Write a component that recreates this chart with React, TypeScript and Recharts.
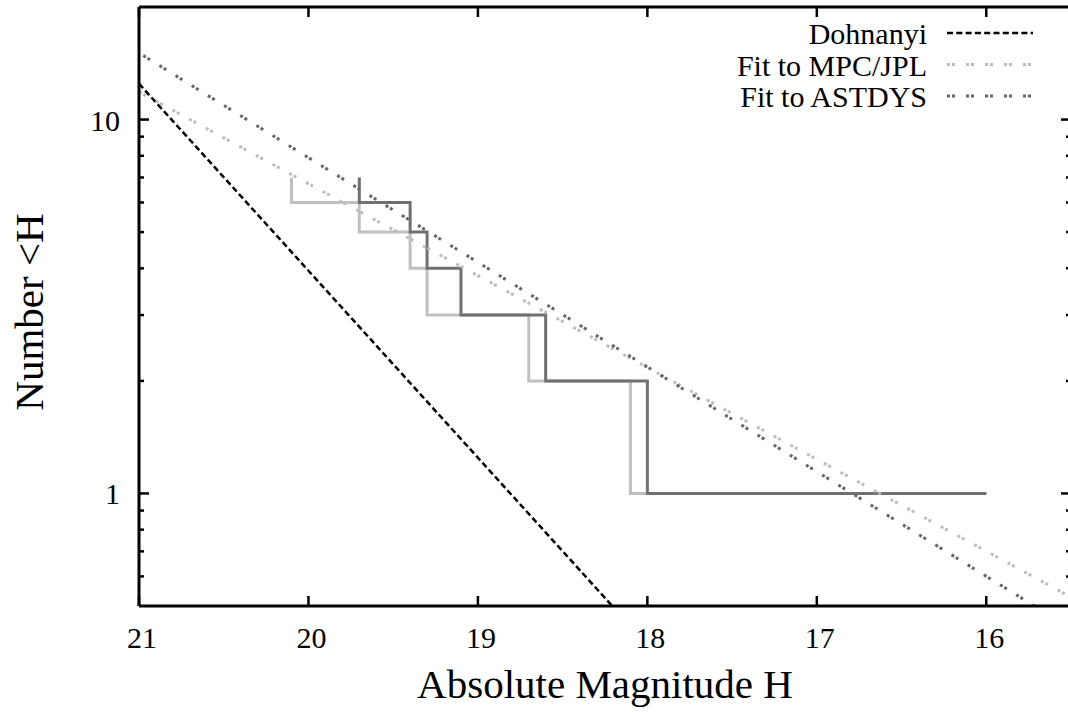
import React from 'react';
import { LineChart, Line, XAxis, YAxis, Legend } from 'recharts';

const FONT = "'Liberation Serif', 'Times New Roman', Times, serif";

// Cumulative number of objects brighter than H (step plots)
const mpcH = [20.1, 19.7, 19.4, 19.3, 18.7, 18.1, 16.0];
const mpcN = [7, 6, 5, 4, 3, 2, 1];
const astH = [19.7, 19.4, 19.3, 19.1, 18.6, 18.0, 16.0];
const astN = [7, 6, 5, 4, 3, 2, 1];

// Straight (log-linear) lines, given by their end points
const dohH = [21, 18];
const dohN = [12.47, 0.394];
const fitMpcH = [21, 15.5];
const fitMpcN = [11.86, 0.528];
const fitAstH = [21, 15.5];
const fitAstN = [15.07, 0.435];

const xTicks = [21, 20, 19, 18, 17, 16];
const yTicks = [0.6, 0.7, 0.8, 0.9, 1, 2, 3, 4, 5, 6, 7, 8, 9, 10];
const yLabelled = [1, 10];
const xDomain: [number, number] = [15.5, 21];
const yDomain: [number, number] = [0.5, 20];

const legendNames = ['Dohnanyi', 'Fit to MPC/JPL', 'Fit to ASTDYS'];

const zip = (h: number[], n: number[]) => h.map((v, i) => ({ H: v, N: n[i] }));
const mpcData = zip(mpcH, mpcN);
const astData = zip(astH, astN);
const dohData = zip(dohH, dohN);
const fitMpcData = zip(fitMpcH, fitMpcN);
const fitAstData = zip(fitAstH, fitAstN);

const C_LIGHT_STEP = '#c0c0c0';
const C_DARK_STEP = '#707070';
const C_LIGHT_FIT = '#bdbdbd';
const C_DARK_FIT = '#666666';
const DOT = '3 2 3 11';
const DASH = '6 3.3';

const legendStyles = [
  { stroke: '#000', dash: DASH, w: 2.5 },
  { stroke: C_LIGHT_FIT, dash: DOT, w: 3 },
  { stroke: C_DARK_FIT, dash: DOT, w: 3 },
];

const isMajor = (v: number) => yLabelled.includes(v);

const BottomTick = (p: any) => {
  const { x, y, payload } = p;
  return (
    <g>
      <line x1={x} y1={y} x2={x} y2={y - 10} stroke="#000" strokeWidth={2.5} />
      <text x={x + 3} y={y + 42} textAnchor="middle" fontFamily={FONT} fontSize={30} fill="#000">
        {payload.value}
      </text>
    </g>
  );
};

const TopTick = (p: any) => {
  const { x, y } = p;
  return <line x1={x} y1={y} x2={x} y2={y + 10} stroke="#000" strokeWidth={2.5} />;
};

const LeftTick = (p: any) => {
  const { x, y, payload } = p;
  const major = isMajor(payload.value);
  return (
    <g>
      <line x1={x} y1={y} x2={x + (major ? 10 : 5)} y2={y} stroke="#000" strokeWidth={2.5} />
      {major ? (
        <text x={x - 19} y={y + 11} textAnchor="end" fontFamily={FONT} fontSize={30} fill="#000">
          {payload.value}
        </text>
      ) : null}
    </g>
  );
};

const RightTick = (p: any) => {
  const { x, y, payload } = p;
  const major = isMajor(payload.value);
  return <line x1={x} y1={y} x2={x - (major ? 10 : 5)} y2={y} stroke="#000" strokeWidth={2.5} />;
};

const LegendBox = () => (
  <svg width={1090} height={130} style={{ display: 'block' }}>
    {legendNames.map((name, i) => {
      const cy = 33 + i * 31.5;
      const s = legendStyles[i];
      return (
        <g key={name}>
          <text x={927} y={cy + 11} textAnchor="end" fontFamily={FONT} fontSize={30} fill="#000">
            {name}
          </text>
          <line x1={947} y1={cy} x2={1033} y2={cy} stroke={s.stroke} strokeWidth={s.w} strokeDasharray={s.dash} />
        </g>
      );
    })}
  </svg>
);

export default function App() {
  return (
    <div
      style={{
        position: 'fixed',
        left: 0,
        top: 0,
        width: 1068,
        height: 712,
        overflow: 'hidden',
        background: '#fff',
      }}
    >
      <LineChart width={1090} height={712} margin={{ top: 0, right: 0, bottom: 0, left: 0 }}>
        <XAxis
          xAxisId={0}
          dataKey="H"
          type="number"
          domain={xDomain}
          reversed
          allowDataOverflow
          ticks={xTicks}
          interval={0}
          height={106}
          tickSize={0}
          tickMargin={0}
          tickLine={false}
          axisLine={{ stroke: '#000', strokeWidth: 3 }}
          tick={BottomTick}
          label={() => (
            <text x={605} y={698} textAnchor="middle" fontFamily={FONT} fontSize={41} fill="#000">
              Absolute Magnitude H
            </text>
          )}
        />
        <XAxis
          xAxisId="top"
          orientation="top"
          dataKey="H"
          type="number"
          domain={xDomain}
          reversed
          allowDataOverflow
          ticks={xTicks}
          interval={0}
          height={7}
          tickSize={0}
          tickMargin={0}
          tickLine={false}
          axisLine={{ stroke: '#000', strokeWidth: 3 }}
          tick={TopTick}
        />
        <YAxis
          yAxisId={0}
          dataKey="N"
          type="number"
          scale="log"
          domain={yDomain}
          allowDataOverflow
          ticks={yTicks}
          interval={0}
          width={139}
          tickSize={0}
          tickMargin={0}
          tickLine={false}
          axisLine={{ stroke: '#000', strokeWidth: 3 }}
          tick={LeftTick}
          label={() => (
            <text
              x={43}
              y={312}
              transform="rotate(-90 43 312)"
              textAnchor="middle"
              fontFamily={FONT}
              fontSize={41}
              fill="#000"
            >
              {'Number <H'}
            </text>
          )}
        />
        <YAxis
          yAxisId="r"
          orientation="right"
          dataKey="N"
          type="number"
          scale="log"
          domain={yDomain}
          allowDataOverflow
          ticks={yTicks}
          interval={0}
          width={19}
          tickSize={0}
          tickMargin={0}
          tickLine={false}
          axisLine={{ stroke: '#000', strokeWidth: 3 }}
          tick={RightTick}
        />
        <Line
          data={mpcData}
          dataKey="N"
          type="stepBefore"
          stroke={C_LIGHT_STEP}
          strokeWidth={3}
          dot={false}
          activeDot={false}
          isAnimationActive={false}
          legendType="none"
        />
        <Line
          data={astData}
          dataKey="N"
          type="stepBefore"
          stroke={C_DARK_STEP}
          strokeWidth={3}
          dot={false}
          activeDot={false}
          isAnimationActive={false}
          legendType="none"
        />
        <Line
          data={dohData}
          dataKey="N"
          type="linear"
          stroke="#000"
          strokeWidth={2.5}
          strokeDasharray={DASH}
          dot={false}
          activeDot={false}
          isAnimationActive={false}
        />
        <Line
          data={fitMpcData}
          dataKey="N"
          type="linear"
          stroke={C_LIGHT_FIT}
          strokeWidth={3}
          strokeDasharray={DOT}
          dot={false}
          activeDot={false}
          isAnimationActive={false}
        />
        <Line
          data={fitAstData}
          dataKey="N"
          type="linear"
          stroke={C_DARK_FIT}
          strokeWidth={3}
          strokeDasharray={DOT}
          strokeDashoffset={-5}
          dot={false}
          activeDot={false}
          isAnimationActive={false}
        />
        <Legend
          layout="vertical"
          align="center"
          verticalAlign="middle"
          wrapperStyle={{ position: 'absolute', left: 0, top: 0, width: 1090, height: 130, pointerEvents: 'none' }}
          content={LegendBox}
        />
      </LineChart>
    </div>
  );
}
